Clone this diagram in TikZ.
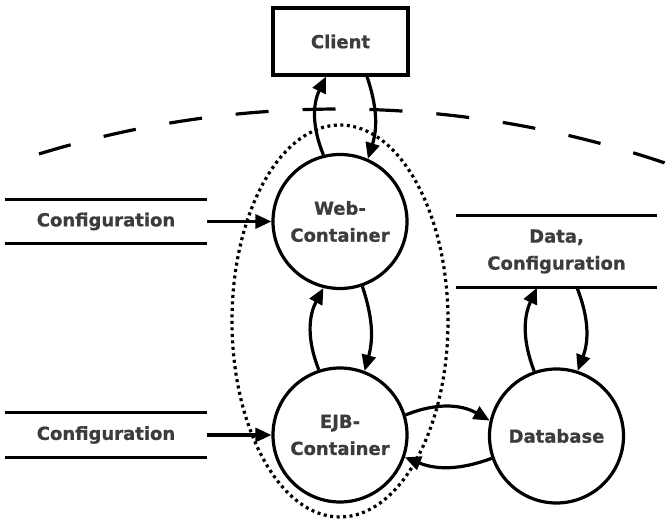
\documentclass[tikz,border=0pt]{standalone}
\usepackage{fontspec}
\setmainfont{DejaVu Sans}[BoldFeatures={FakeBold=0.8}]
\usetikzlibrary{arrows.meta,calc}
\definecolor{txt}{RGB}{60,60,60}
\begin{document}
\begin{tikzpicture}[x=1pt,y=1pt,
 lbl/.style={text=txt,font=\bfseries\fontsize{18}{27}\selectfont,align=center},
 proc/.style={circle,draw,line width=3.2pt,minimum size=134pt,inner sep=0pt,lbl},
 ext/.style={rectangle,draw,line width=3.2pt,minimum width=135pt,minimum height=67pt,inner sep=0pt,lbl},
 store/.style={rectangle,inner sep=0pt,lbl},
 flow/.style={line width=3.2pt,-{Triangle[length=16pt,width=14pt]}},
 sline/.style={line width=3.2pt}]
\useasboundingbox (0,0) rectangle (671,521);
% boundary arc and dotted grouping
\draw[line width=3.2pt, dash pattern=on 33pt off 34pt] (338,-605) ++(107.1:1017) arc[start angle=107.1, end angle=70.9, radius=1017];
\draw[line width=3.2pt, dash pattern=on 3pt off 3.5pt] (340,200) ellipse[x radius=108, y radius=196];
% nodes
\node[ext] (client) at (340.5,479.5) {Client};
\node[proc] (web) at (340,299.5) {Web-\\Container};
\node[proc] (ejb) at (340,86) {EJB-\\Container};
\node[proc] (db) at (556.5,85) {Database};
\node[store,minimum width=202pt,minimum height=44pt] (cfgA) at (106,299.5) {Configuration};
\node[store,minimum width=202pt,minimum height=44pt] (cfgB) at (106,86) {Configuration};
\node[store,minimum width=201pt,minimum height=72pt] (data) at (556.5,269.5) {Data,\\Configuration};
\foreach \s in {cfgA,cfgB,data}{
  \draw[sline] (\s.north west) -- (\s.north east);
  \draw[sline] (\s.south west) -- (\s.south east);
}
% flows
\draw[flow] (web.104) to[bend left=24] ([xshift=-14.5pt]client.south);
\draw[flow] ([xshift=26.5pt]client.south) to[bend left=18] (web.66);
\draw[flow] (ejb.108) to[bend left=25] (web.256);
\draw[flow] (web.289) to[bend left=17] (ejb.69);
\draw[flow] (ejb.17) to[bend left=26] (db.167);
\draw[flow] (db.199) to[bend left=21] (ejb.341);
\draw[flow] (db.109) to[bend left=23] ([xshift=-19.5pt]data.south);
\draw[flow] ([xshift=20.5pt]data.south) to[bend left=21] (db.72.5);
\draw[flow] (cfgA.east) -- (web.west);
\draw[flow] (cfgB.east) -- (ejb.west);
\end{tikzpicture}
\end{document}
